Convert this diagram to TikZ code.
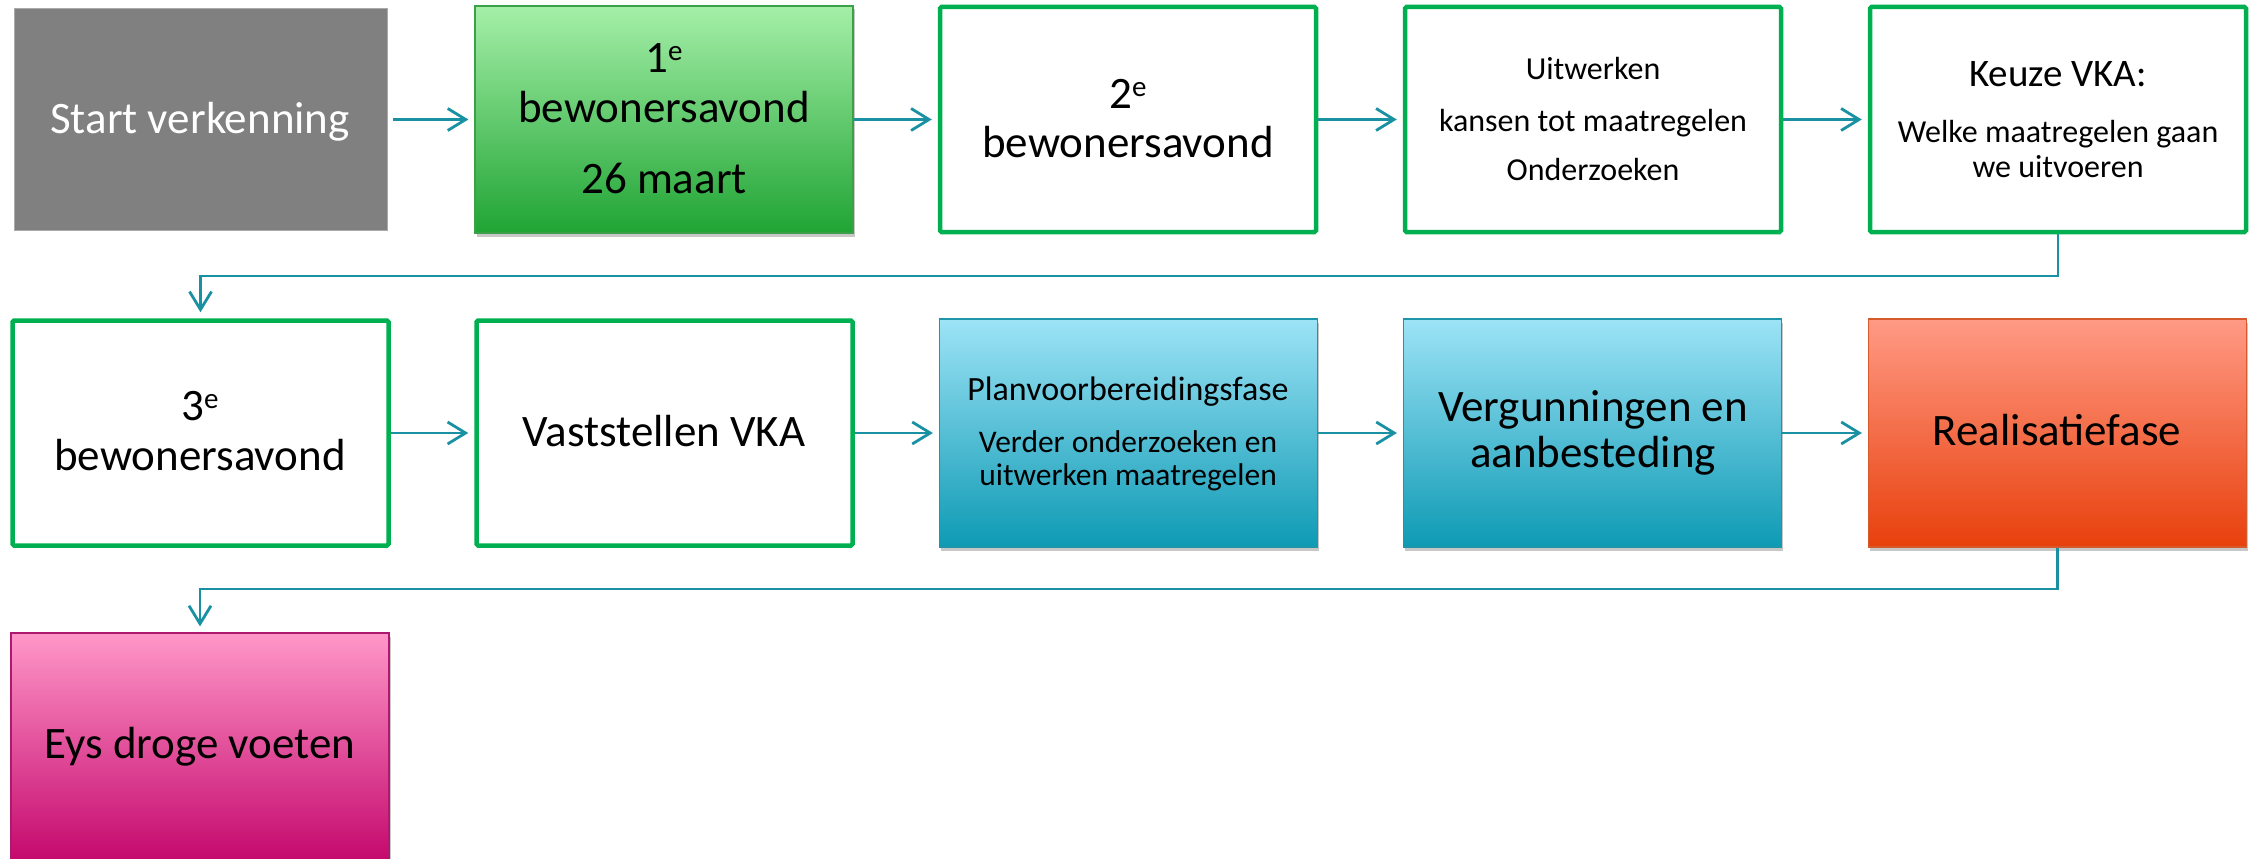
\documentclass[tikz,border=0pt]{standalone}
\usepackage{fontspec}
\setmainfont{Carlito}
\usetikzlibrary{arrows.meta,shadows}

\definecolor{connc}{RGB}{25,145,162}
\definecolor{ogreen}{RGB}{0,176,80}
\definecolor{grayfill}{RGB}{128,128,128}
\definecolor{grayline}{RGB}{170,170,170}
\definecolor{gtop}{RGB}{165,239,168}
\definecolor{gbot}{RGB}{32,164,52}
\definecolor{gline}{RGB}{60,160,70}
\definecolor{btop}{RGB}{157,227,246}
\definecolor{bbot}{RGB}{14,154,180}
\definecolor{bline}{RGB}{30,150,170}
\definecolor{rtop}{RGB}{255,154,133}
\definecolor{rbot}{RGB}{232,64,12}
\definecolor{rline}{RGB}{215,90,45}
\definecolor{ptop}{RGB}{255,151,200}
\definecolor{pbot}{RGB}{196,8,109}
\definecolor{pline}{RGB}{176,24,111}

\newcommand{\supe}{\raisebox{12pt}{\fontsize{29}{29}\selectfont e}}

\tikzset{
  boxbase/.style={rectangle, inner sep=0pt, minimum width=378pt, minimum height=228pt},
  outlinebox/.style={boxbase, draw=ogreen, fill=white, line width=4.5pt, rounded corners=1.5pt,
    minimum width=376pt, minimum height=225pt},
  graybox/.style={boxbase, fill=grayfill, draw=grayline, line width=1pt, minimum height=221pt, minimum width=373pt},
  shadowed/.style={drop shadow={shadow xshift=1.5pt, shadow yshift=-3.5pt, opacity=0.22, fill=black}},
  greenbox/.style={boxbase, shadowed, top color=gtop, bottom color=gbot, draw=gline, line width=1.2pt, minimum height=227pt},
  bluebox/.style={boxbase, shadowed, top color=btop, bottom color=bbot, draw=bline, line width=1.2pt},
  redbox/.style={boxbase, shadowed, top color=rtop, bottom color=rbot, draw=rline, line width=1.2pt},
  pinkbox/.style={boxbase, shadowed, top color=ptop, bottom color=pbot, draw=pline, line width=1.2pt},
  tbig/.style={font=\fontsize{45}{54}\selectfont, anchor=base, inner sep=0pt},
  tmid/.style={font=\fontsize{39}{46}\selectfont, anchor=base, inner sep=0pt},
  tplan/.style={font=\fontsize{34}{40}\selectfont, anchor=base, inner sep=0pt},
  tsmall/.style={font=\fontsize{32}{38}\selectfont, anchor=base, inner sep=0pt},
  tlow/.style={font=\fontsize{31.5}{38}\selectfont, anchor=base, inner sep=0pt},
  connector/.style={draw=connc, line width=2.8pt, line join=miter,
    -{Straight Barb[length=18pt,width=22pt,line width=2.8pt]}, shorten >=6pt}
}

\begin{document}
\begin{tikzpicture}[x=1pt,y=-1pt]
\useasboundingbox (0,0) rectangle (2254,859);

% row 1
\node[graybox]    (a1) at (200.5,119.5) {};
\node[greenbox]   (a2) at (664,119.5) {};
\node[outlinebox] (a3) at (1128,119.5) {};
\node[outlinebox] (a4) at (1593,119.5) {};
\node[outlinebox] (a5) at (2058,119.5) {};

% row 2
\node[outlinebox] (b1) at (200.5,433) {};
\node[outlinebox] (b2) at (664.5,433) {};
\node[bluebox]    (b3) at (1128.5,433) {};
\node[bluebox]    (b4) at (1592.5,433) {};
\node[redbox]     (b5) at (2057.5,433) {};

% row 3
\node[pinkbox]    (c1) at (200,747) {};

% texts row 1
\node[tbig, text=white] (a1t) at (200,133) {Start verkenning};
\node[tbig] (a2t1) at (664,73) {1\supe};
\node[tbig] (a2t2) at (664,122) {bewonersavond};
\node[tbig] (a2t3) at (664,193) {26 maart};
\node[tbig] (a3t1) at (1128,108) {2\supe};
\node[tbig] (a3t2) at (1128,157) {bewonersavond};
\node[tsmall] (a4t1) at (1593,80) {Uitwerken};
\node[tsmall] (a4t2) at (1593,131) {kansen tot maatregelen};
\node[tsmall] (a4t3) at (1593,180) {Onderzoeken};
\node[tmid]   (a5t1) at (2058,87) {Keuze VKA:};
\node[tsmall] (a5t2) at (2058,142) {Welke maatregelen gaan};
\node[tsmall] (a5t3) at (2058,177) {we uitvoeren};

% texts row 2
\node[tbig] (b1t1) at (200,420) {3\supe};
\node[tbig] (b1t2) at (200,470) {bewonersavond};
\node[tbig] (b2t) at (664,446) {Vaststellen VKA};
\node[tplan] (b3t1) at (1128,400) {Planvoorbereidingsfase};
\node[tlow] (b3t2) at (1128,452) {Verder onderzoeken en};
\node[tlow] (b3t3) at (1128,485) {uitwerken maatregelen};
\node[tbig] (b4t1) at (1593,421) {Vergunningen en};
\node[tbig] (b4t2) at (1593,467) {aanbesteding};
\node[tbig] (b5t) at (2057,445) {Realisatiefase};

% text row 3
\node[tbig] (c1t) at (200,758) {Eys droge voeten};

% connectors row 1
\draw[connector] (a1.east) ++(5pt,0) coordinate (a1s) -- (a1s -| a2.west);
\draw[connector] (a2.east) -- (a3.west);
\draw[connector] (a3.east) -- (a4.west);
\draw[connector] (a4.east) -- (a5.west);

% elbow to row 2
\coordinate (k1) at (200.5,276);
\draw[connector] (a5.south) |- (k1) -- (b1.north);

% connectors row 2
\draw[connector] (b1.east) -- (b2.west);
\draw[connector] (b2.east) -- (b3.west);
\draw[connector] (b3.east) -- (b4.west);
\draw[connector] (b4.east) -- (b5.west);

% elbow to row 3
\coordinate (k2) at (200,589);
\draw[connector] (b5.south) |- (k2) -- (c1.north);
\end{tikzpicture}
\end{document}
